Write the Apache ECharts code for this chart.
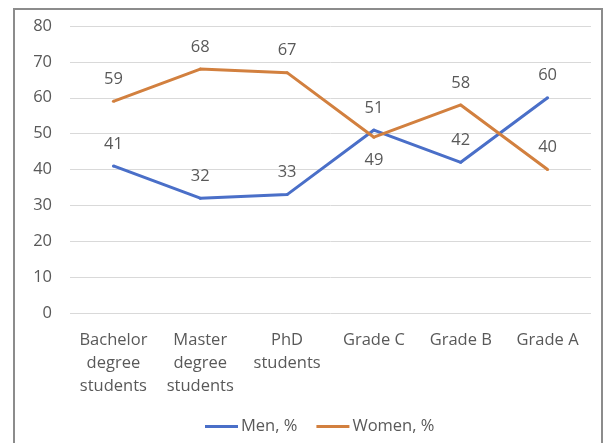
<!DOCTYPE html>
<html><head><meta charset="utf-8">
<script src="https://cdn.jsdelivr.net/npm/echarts@6/dist/echarts.min.js"></script>
<style>html,body{margin:0;padding:0;background:#fff}#c{width:606px;height:443px;position:relative}
#b{position:absolute;left:13px;top:8px;width:590px;height:445px;border:2px solid #8c8c8c;box-sizing:border-box;pointer-events:none}</style>
</head><body><div id="c"></div><div id="b"></div>
<script>
const categories = ['Bachelor\ndegree\nstudents', 'Master\ndegree\nstudents', 'PhD\nstudents', 'Grade C', 'Grade B', 'Grade A'];
const men = [41, 32, 33, 51, 42, 60];
const women = [59, 68, 67, 49, 58, 40];
const yTicks = [0, 10, 20, 30, 40, 50, 60, 70, 80];
const font = '"Open Sans", "Noto Sans", sans-serif';
const fs = 16.5;
const chart = echarts.init(document.getElementById('c'));
const lbl = {show: true, position: 'top', distance: 12, fontFamily: font, fontSize: fs, color: '#595959'};
chart.setOption({
  animation: false,
  textStyle: {fontFamily: font},
  grid: {left: 70, right: 15, top: 26, bottom: 130, containLabel: false},
  legend: {top: 413, left: 200, itemWidth: 33, itemHeight: 3, itemGap: 19, icon: 'rect',
    textStyle: {fontFamily: font, fontSize: fs, color: '#595959', padding: [0, 0, 0, -2]},
    data: ['Men, %', 'Women, %']},
  xAxis: {type: 'category', data: categories, boundaryGap: true,
    axisLine: {show: false}, axisTick: {show: false},
    axisLabel: {fontFamily: font, fontSize: fs, color: '#595959', lineHeight: 23, margin: 16, interval: 0}},
  yAxis: {type: 'value', min: yTicks[0], max: yTicks[yTicks.length - 1], interval: 10,
    axisLine: {show: false}, axisTick: {show: false},
    splitLine: {lineStyle: {color: '#d9d9d9', width: 1}},
    axisLabel: {fontFamily: font, fontSize: fs, color: '#595959', margin: 18}},
  series: [
    {name: 'Men, %', type: 'line', data: men, symbol: 'circle', symbolSize: 3, showAllSymbol: true, color: '#4A6FC8',
      itemStyle: {color: '#4A6FC8', borderWidth: 0},
      lineStyle: {width: 3, color: '#4A6FC8'},
      label: lbl},
    {name: 'Women, %', type: 'line', symbol: 'circle', symbolSize: 3, showAllSymbol: true, color: '#D2803F',
      itemStyle: {color: '#D2803F', borderWidth: 0},
      data: women.map((v, i) => i === 3 ? {value: v, label: {position: 'bottom', distance: 13}} : v),
      lineStyle: {width: 3, color: '#D2803F'},
      label: lbl}
  ]
});
</script></body></html>
